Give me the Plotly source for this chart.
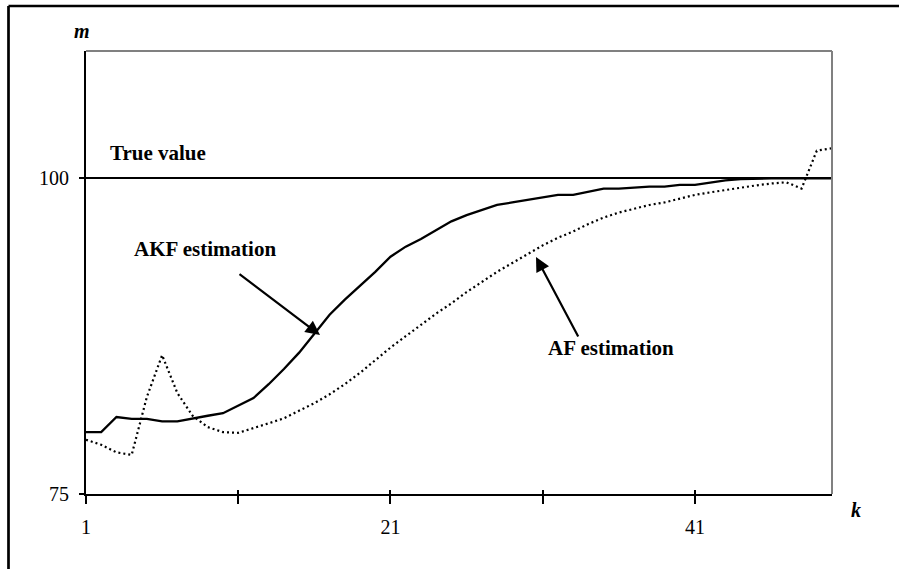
import plotly.graph_objects as go

# ---------------- data ----------------
k_values = list(range(1, 51))

akf_estimation = [79.9, 79.9, 81.1, 80.95, 80.95, 80.75, 80.75, 81.0, 81.2, 81.4,
                  82.0, 82.6, 83.7, 84.9, 86.2, 87.7, 89.2, 90.4, 91.5, 92.6,
                  93.8, 94.6, 95.2, 95.9, 96.6, 97.1, 97.5, 97.9, 98.1, 98.3,
                  98.5, 98.7, 98.7, 98.95, 99.2, 99.2, 99.3, 99.35, 99.35, 99.5,
                  99.5, 99.7, 99.85, 99.95, 100.0, 100.0, 100.0, 100.0, 100.0, 100.0]

af_estimation = [79.3, 78.9, 78.3, 78.1, 82.7, 86.0, 83.0, 81.2, 80.3, 79.9,
                 79.85, 80.2, 80.6, 81.0, 81.6, 82.2, 82.9, 83.7, 84.6, 85.6,
                 86.6, 87.5, 88.4, 89.3, 90.1, 91.0, 91.8, 92.6, 93.3, 94.0,
                 94.7, 95.3, 95.8, 96.4, 96.9, 97.3, 97.6, 97.9, 98.1, 98.4,
                 98.7, 98.9, 99.1, 99.3, 99.45, 99.6, 99.7, 99.2, 102.2, 102.4]

true_value = 100
y_ticks = [75, 100]
x_tickvals = [1, 11, 21, 31, 41]
x_ticktext = ["1", "", "21", "", "41"]

# ---------------- layout constants ----------------
W, H = 899, 569
L, R, T, B = 86, 67, 51, 75
PW, PH = W - L - R, H - T - B
FONT = "Liberation Serif"


def px_x(px):
    return (px - L) / PW


def px_y(py):
    return (H - B - py) / PH


fig = go.Figure()

fig.add_trace(go.Scatter(
    x=k_values, y=akf_estimation, mode="lines",
    line=dict(color="black", width=2.3),
    hoverinfo="skip", showlegend=False,
))
fig.add_trace(go.Scatter(
    x=k_values, y=af_estimation, mode="lines",
    line=dict(color="black", width=2.2, dash="2px,3px"),
    hoverinfo="skip", showlegend=False, xaxis="x2",
))

xrange = [1, 50]
yrange = [75, 110.1]

fig.update_layout(
    width=W, height=H,
    margin=dict(l=L, r=R, t=T, b=B, pad=0),
    paper_bgcolor="white", plot_bgcolor="white",
    showlegend=False,
    xaxis=dict(
        range=xrange, tickmode="array", tickvals=x_tickvals, ticktext=x_ticktext,
        ticks="outside", ticklen=8, tickwidth=2, tickcolor="black",
        showline=True, linecolor="black", linewidth=2,
        showgrid=False, zeroline=False,
        tickfont=dict(family=FONT, size=20, color="black"),
        ticklabelstandoff=6,
    ),
    xaxis2=dict(
        range=xrange, overlaying="x", anchor="y", side="bottom",
        tickmode="array", tickvals=x_tickvals,
        ticks="inside", ticklen=4, tickwidth=2, tickcolor="black",
        showticklabels=False, showline=False, showgrid=False, zeroline=False,
    ),
    yaxis=dict(
        range=yrange, tickmode="array", tickvals=y_ticks,
        ticks="outside", ticklen=5, tickwidth=2, tickcolor="black",
        showline=True, linecolor="black", linewidth=2,
        showgrid=True, gridcolor="black", gridwidth=2, zeroline=False,
        tickfont=dict(family=FONT, size=20, color="black"),
        ticklabelstandoff=6,
    ),
)

# plot-area top/right border (grey) and the outer frame
shapes = [
    dict(type="line", xref="paper", yref="paper", x0=0, x1=1, y0=1, y1=1,
         line=dict(color="#808080", width=2)),
    dict(type="line", xref="paper", yref="paper", x0=1, x1=1, y0=0, y1=1,
         line=dict(color="#808080", width=2)),
    dict(type="line", xref="paper", yref="paper", x0=px_x(8.5), x1=px_x(905),
         y0=px_y(6), y1=px_y(6), line=dict(color="black", width=2.7)),
    dict(type="line", xref="paper", yref="paper", x0=px_x(8.5), x1=px_x(8.5),
         y0=px_y(6), y1=px_y(575), line=dict(color="black", width=2.7)),
]
fig.update_layout(shapes=shapes)

lab_font = dict(family=FONT, size=21, color="black")
annotations = [
    dict(text="<b><i>m</i></b>", xref="paper", yref="paper", x=px_x(82), y=px_y(31),
         xanchor="center", yanchor="middle",
         showarrow=False, font=dict(family=FONT, size=20, color="black")),
    dict(text="<b><i>k</i></b>", xref="paper", yref="paper", x=px_x(856), y=px_y(510),
         xanchor="center", yanchor="middle",
         showarrow=False, font=dict(family=FONT, size=20, color="black")),
    dict(text="<b>True value</b>", xref="paper", yref="paper", x=px_x(108), y=px_y(153),
         xanchor="left", yanchor="middle", showarrow=False, font=lab_font),
    dict(text="<b>AKF estimation</b>", xref="paper", yref="paper", x=px_x(132), y=px_y(249),
         xanchor="left", yanchor="middle", showarrow=False, font=lab_font),
    dict(text="<b>AF estimation</b>", xref="paper", yref="paper", x=px_x(546), y=px_y(348),
         xanchor="left", yanchor="middle", showarrow=False, font=lab_font),
    # arrows
    dict(text="", xref="x domain", yref="y domain", axref="x domain", ayref="y domain",
         x=px_x(320), y=px_y(335), ax=px_x(238), ay=px_y(273),
         showarrow=True, arrowhead=2, arrowsize=1.3, arrowwidth=2.2, arrowcolor="black",
         standoff=0, startstandoff=0),
    dict(text="", xref="x domain", yref="y domain", axref="x domain", ayref="y domain",
         x=px_x(536), y=px_y(257), ax=px_x(579), ay=px_y(338),
         showarrow=True, arrowhead=2, arrowsize=1.3, arrowwidth=2.2, arrowcolor="black",
         standoff=0, startstandoff=0),
]
fig.update_layout(annotations=annotations)

fig.write_html(
    "out.html",
    config={"displayModeBar": False},
    post_script="document.body.style.margin='0';document.body.style.overflow='hidden';",
)
